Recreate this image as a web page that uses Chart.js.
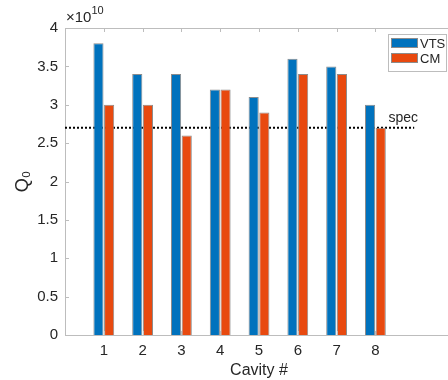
<!DOCTYPE html>
<html>
<head>
<meta charset="utf-8">
<script src="https://cdn.jsdelivr.net/npm/chart.js@4.4.1/dist/chart.umd.min.js"></script>
<style>
  html, body { margin: 0; padding: 0; background: #fff; overflow: hidden; }
  #wrap { width: 460px; height: 380px; }
</style>
</head>
<body>
<div id="wrap"><canvas id="myChart" width="460" height="380"></canvas></div>
<script>
// values in units of 1e10
var cavities = [1, 2, 3, 4, 5, 6, 7, 8];
var vtsQ0 = [3.8, 3.4, 3.4, 3.2, 3.1, 3.6, 3.5, 3.0];
var cmQ0 = [3.0, 3.0, 2.6, 3.2, 2.9, 3.4, 3.4, 2.7];
var specQ0 = 2.7;
var axisSlots = ['0', '1', '2', '3', '4', '5', '6', '7', '8', '9', '10'];
var yTicks = [0, 0.5, 1, 1.5, 2, 2.5, 3, 3.5, 4];

var FONT = '"Liberation Sans", Helvetica, Arial, sans-serif';
var AXIS = '#bdbdbd';
var TXT = '#262626';

// put each cavity value in its slot on the 0..10 axis
function toSlots(vals) {
    var out = axisSlots.map(function () { return null; });
    cavities.forEach(function (c, i) { out[c] = vals[i]; });
    return out;
}
var specLine = axisSlots.map(function (s, i) { return i <= 9 ? specQ0 : null; });

var boxPlugin = {
    id: 'box',
    afterDatasetsDraw: function (chart) {
        var ctx = chart.ctx, a = chart.chartArea;
        var xs = chart.scales.x, ys = chart.scales.y;
        ctx.save();
        ctx.strokeStyle = AXIS;
        ctx.lineWidth = 1;
        ctx.beginPath();
        ctx.moveTo(a.left, a.top + 0.5);
        ctx.lineTo(a.right, a.top + 0.5);
        // inward ticks
        cavities.forEach(function (c) {
            var px = Math.round(xs.getPixelForValue(c)) + 0.5;
            ctx.moveTo(px, a.bottom); ctx.lineTo(px, a.bottom - 4);
            ctx.moveTo(px, a.top); ctx.lineTo(px, a.top + 4);
        });
        yTicks.forEach(function (v) {
            var py = Math.round(ys.getPixelForValue(v)) + 0.5;
            ctx.moveTo(a.left, py); ctx.lineTo(a.left + 4, py);
        });
        ctx.stroke();

        // exponent label
        ctx.fillStyle = TXT;
        ctx.textBaseline = 'alphabetic';
        ctx.textAlign = 'left';
        ctx.font = '15px ' + FONT;
        ctx.fillText('\u00d710', a.left + 1, a.top - 6);
        var w = ctx.measureText('\u00d710').width;
        ctx.font = '11px ' + FONT;
        ctx.fillText('10', a.left + 1 + w, a.top - 14);

        // spec label
        ctx.font = '14px ' + FONT;
        ctx.fillText('spec', xs.getPixelForValue(8) + 13, ys.getPixelForValue(specQ0) - 6);

        // legend
        var lx = 388, ly = 34, lw = 58, lh = 37;
        ctx.fillStyle = '#fff';
        ctx.fillRect(lx, ly, lw, lh);
        ctx.strokeStyle = '#bdbdbd';
        ctx.strokeRect(lx + 0.5, ly + 0.5, lw, lh);
        var items = chart.data.datasets.filter(function (d) { return d.type !== 'line'; });
        ctx.font = '13px ' + FONT;
        ctx.textBaseline = 'middle';
        items.forEach(function (d, i) {
            var y = ly + 4 + i * 15;
            ctx.fillStyle = d.backgroundColor;
            ctx.fillRect(lx + 3, y, 27, 10);
            ctx.strokeStyle = '#8c8c8c';
            ctx.strokeRect(lx + 3.5, y + 0.5, 26, 9);
            ctx.fillStyle = TXT;
            ctx.fillText(d.label, lx + 32, y + 6);
        });
        ctx.restore();
    }
};

var ctx1 = document.getElementById('myChart').getContext('2d');
var myChart = new Chart(ctx1, {
    type: 'bar',
    data: {
        labels: axisSlots,
        datasets: [
            {
                label: 'VTS',
                data: toSlots(vtsQ0),
                backgroundColor: '#0072BD',
                borderColor: '#8c8c8c',
                borderWidth: 1,
                categoryPercentage: 0.55,
                barPercentage: 0.95
            },
            {
                label: 'CM',
                data: toSlots(cmQ0),
                backgroundColor: '#E8490F',
                borderColor: '#8c8c8c',
                borderWidth: 1,
                categoryPercentage: 0.55,
                barPercentage: 0.95
            },
            {
                type: 'line',
                label: 'spec',
                data: specLine,
                borderColor: '#000',
                borderWidth: 2,
                borderDash: [2, 2],
                pointRadius: 0,
                fill: false,
                spanGaps: false
            }
        ]
    },
    options: {
        responsive: false,
        animation: false,
        layout: { padding: { top: 28, right: 5, left: 0, bottom: 0 } },
        plugins: {
            legend: { display: false },
            tooltip: { enabled: false }
        },
        scales: {
            x: {
                offset: false,
                grid: { display: false, drawTicks: false },
                border: { display: true, color: AXIS, width: 1 },
                ticks: {
                    padding: 7,
                    color: TXT,
                    font: { family: FONT, size: 15 },
                    maxRotation: 0,
                    autoSkip: false,
                    callback: function (v, i) {
                        return cavities.indexOf(i) >= 0 ? axisSlots[i] : '';
                    }
                },
                title: {
                    display: true,
                    text: 'Cavity #',
                    color: TXT,
                    font: { family: FONT, size: 16 },
                    padding: { top: 1, bottom: 0 }
                },
                afterFit: function (s) { s.height = 45; }
            },
            y: {
                min: 0,
                max: 4,
                ticks: {
                    stepSize: 0.5,
                    padding: 7,
                    color: TXT,
                    font: { family: FONT, size: 15 },
                    callback: function (v) { return String(v); }
                },
                grid: { display: false, drawTicks: false },
                border: { display: true, color: AXIS, width: 1 },
                title: {
                    display: true,
                    text: 'Q\u2080',
                    color: TXT,
                    font: { family: FONT, size: 18 },
                    padding: { top: 12, bottom: 0 }
                },
                afterFit: function (s) { s.width = 65; }
            }
        }
    },
    plugins: [boxPlugin]
});
</script>
</body>
</html>
